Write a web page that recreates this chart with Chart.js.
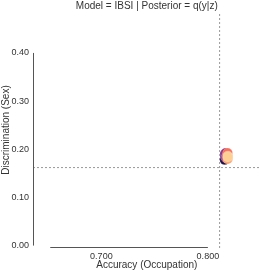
<!DOCTYPE html>
<html>
<head>
<meta charset="utf-8">
<script src="https://cdn.jsdelivr.net/npm/chart.js@4.4.1/dist/chart.umd.min.js"></script>
<style>
  html, body { margin: 0; padding: 0; background: #fff; }
  #wrap { width: 266px; height: 271px; position: relative; }
</style>
</head>
<body>
<div id="wrap"><canvas id="chart"></canvas></div>
<script>
// Accuracy vs discrimination, one cluster of runs
const accValues  = [0.8158, 0.8160, 0.8163, 0.8168, 0.8172, 0.8180, 0.8185, 0.8186, 0.8187, 0.8188];
const discValues = [0.178, 0.190, 0.185, 0.192, 0.182, 0.187, 0.192, 0.180, 0.186, 0.184];
const pointColors = ['#1d1147', '#3b0f70', '#641a80', '#8c2981', '#b73779', '#de4968', '#f7705c', '#fe9f6d', '#fdb883', '#fecf92'];

const xTicks = [0.7, 0.8];
const yTicks = [0, 0.1, 0.2, 0.3, 0.4];
const refAcc = 0.811;   // vertical dashed
const refDisc = 0.162;  // horizontal dashed

const xMin = 0.6358, xMax = 0.8495;
const yMin = -0.005, yMax = 0.485;
const xAxisFrom = 0.652, xAxisTo = 0.8;

const font = 'Liberation Sans, Arial, Helvetica, sans-serif';
const textColor = '#333';

const points = accValues.map((x, i) => ({ x, y: discValues[i] }));

// trimmed spines + title, seaborn style
const decor = {
  id: 'decor',
  afterDraw(chart) {
    const { ctx, chartArea, scales } = chart;
    const x = scales.x, y = scales.y;
    ctx.save();
    ctx.strokeStyle = '#555';
    ctx.lineWidth = 1;
    ctx.beginPath();
    ctx.moveTo(chartArea.left + 0.5, y.getPixelForValue(yTicks[yTicks.length - 1]));
    ctx.lineTo(chartArea.left + 0.5, y.getPixelForValue(0));
    ctx.stroke();
    const by = Math.round(y.getPixelForValue(0)) + 1.5;
    ctx.beginPath();
    ctx.moveTo(x.getPixelForValue(xAxisFrom), by);
    ctx.lineTo(x.getPixelForValue(xAxisTo), by);
    ctx.stroke();
    ctx.fillStyle = textColor;
    ctx.font = '10px ' + font;
    ctx.textAlign = 'center';
    ctx.textBaseline = 'middle';
    ctx.fillText('Model = IBSI | Posterior = q(y|z)', (chartArea.left + chartArea.right) / 2, 6);
    ctx.restore();
  }
};

new Chart(document.getElementById('chart'), {
  type: 'scatter',
  data: {
    datasets: [
      {
        type: 'line',
        data: [{ x: refAcc, y: yMin }, { x: refAcc, y: yMax }],
        borderColor: '#999',
        borderWidth: 1,
        borderDash: [2, 2],
        pointRadius: 0,
        order: 2
      },
      {
        type: 'line',
        data: [{ x: xMin, y: refDisc }, { x: xMax, y: refDisc }],
        borderColor: '#999',
        borderWidth: 1,
        borderDash: [2, 2],
        pointRadius: 0,
        order: 2
      },
      {
        data: points,
        backgroundColor: pointColors,
        borderColor: 'rgba(255,255,255,0.5)',
        borderWidth: 0.4,
        pointRadius: 5,
        order: 1
      }
    ]
  },
  options: {
    responsive: true,
    maintainAspectRatio: false,
    animation: false,
    layout: { padding: { top: 12, right: 0, left: 0, bottom: 0 } },
    plugins: { legend: { display: false }, tooltip: { enabled: false }, title: { display: false } },
    scales: {
      x: {
        type: 'linear',
        min: xMin,
        max: xMax,
        afterBuildTicks: (s) => { s.ticks = xTicks.map(v => ({ value: v })); },
        afterFit: (s) => { s.height = 23; },
        grid: { display: false, drawTicks: false },
        border: { display: false },
        ticks: {
          padding: 3,
          color: textColor,
          font: { family: font, size: 9 },
          callback: (v) => v.toFixed(3)
        },
        title: {
          display: true,
          text: 'Accuracy (Occupation)',
          color: textColor,
          font: { family: font, size: 10 },
          padding: 0
        }
      },
      y: {
        type: 'linear',
        min: yMin,
        max: yMax,
        afterBuildTicks: (s) => { s.ticks = yTicks.map(v => ({ value: v })); },
        afterFit: (s) => { s.width = 33; },
        grid: { display: false, drawTicks: false },
        border: { display: false },
        ticks: {
          padding: 4,
          color: textColor,
          font: { family: font, size: 9 },
          callback: (v) => v.toFixed(2)
        },
        title: {
          display: true,
          text: 'Discrimination (Sex)',
          color: textColor,
          font: { family: font, size: 10 },
          padding: 0
        }
      }
    }
  },
  plugins: [decor]
});
</script>
</body>
</html>
